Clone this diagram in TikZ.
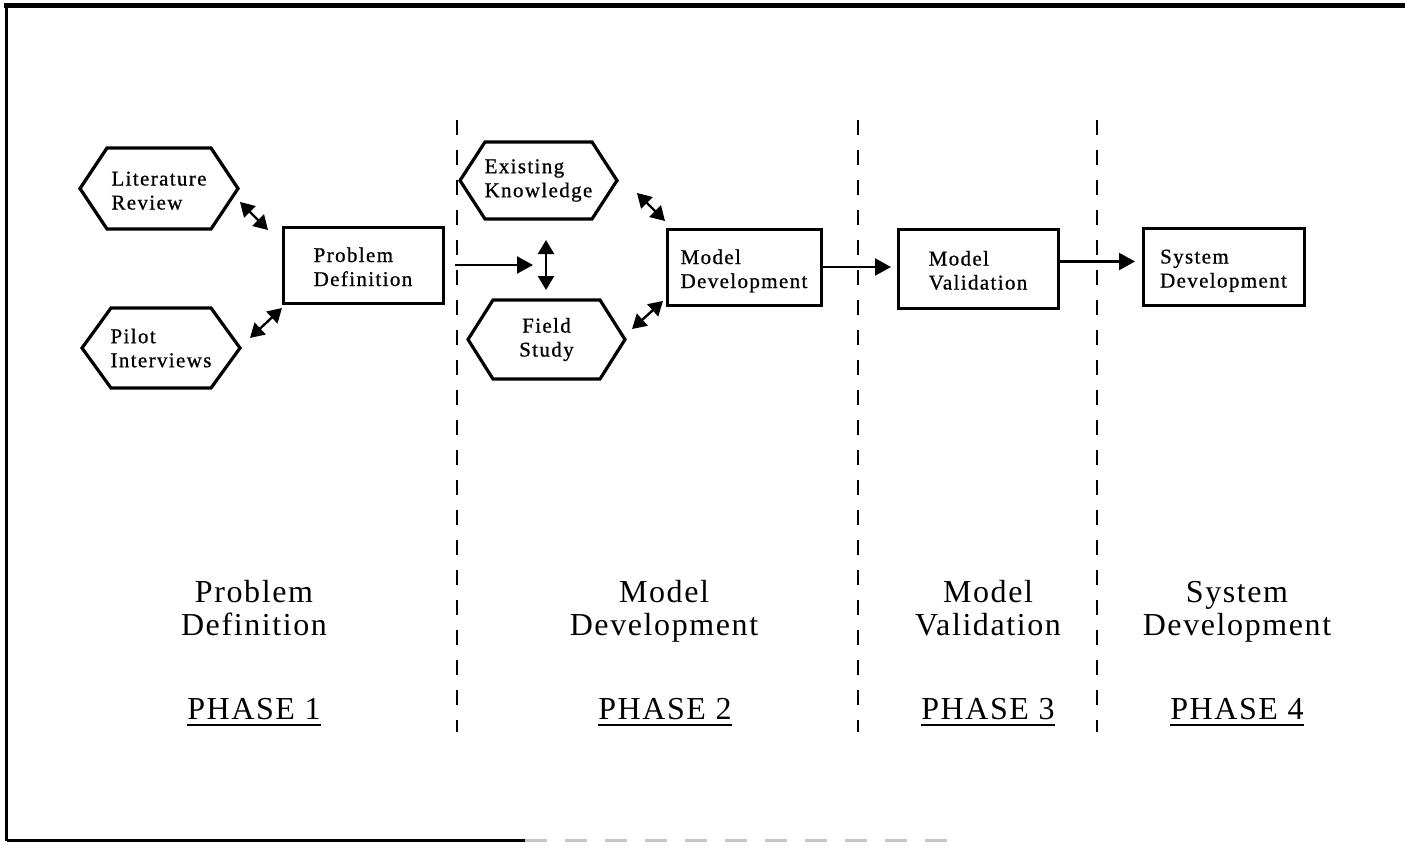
\documentclass[tikz,border=0pt]{standalone}
\usepackage{fontspec}
\setmainfont{Liberation Serif}
\newfontfamily\boxfont[LetterSpace=6.5,FakeBold=0.8]{Liberation Serif}
\newfontfamily\phasefont[LetterSpace=5]{Liberation Serif}
\usetikzlibrary{arrows.meta}

% invisible struts so every text line sits on the same baseline grid
\newcommand{\boxstrut}{\rule[-5pt]{0pt}{28pt}}
\newcommand{\capstrut}{\rule[-9pt]{0pt}{37pt}}
% keep baselines exactly one \baselineskip apart
\newcommand{\tightlines}{\lineskiplimit=-50pt\relax\lineskip=0pt\relax}
\newcommand{\boxtextfont}{\boxfont\fontsize{21}{24}\selectfont\tightlines}
\newcommand{\captionfont}{\phasefont\fontsize{32}{33}\selectfont\tightlines}

% hexagon drawn around a (borderless) node: #1 name, #2 horizontal inset of the slanted sides
\newcommand{\hexframe}[2]{%
  \draw[hexline] (#1.west) -- ([xshift=#2]#1.north west) -- ([xshift=-#2]#1.north east)
    -- (#1.east) -- ([xshift=-#2]#1.south east) -- ([xshift=#2]#1.south west) -- cycle;}

\begin{document}
\begin{tikzpicture}[x=1pt,y=-1pt,
  stepbox/.style={draw, line width=3pt, inner sep=0pt, outer sep=0pt, align=left, font=\boxtextfont},
  hexnode/.style={inner sep=0pt, outer sep=0pt, align=left, font=\boxtextfont},
  hexline/.style={line width=3.2pt, line join=miter},
  link/.style={line width=2.2pt, -{Triangle[length=16pt,width=17pt]}},
  dlink/.style={line width=2.4pt,
    {Triangle[length=14pt,width=16pt]}-{Triangle[length=14pt,width=16pt]}},
  divider/.style={line width=2.6pt, dash pattern=on 15pt off 15pt},
  phaselabel/.style={font=\captionfont, align=center, inner sep=0pt},
  phasetag/.style={font=\phasefont\fontsize{32}{33}\selectfont, inner sep=0pt, anchor=base},
]
\useasboundingbox (0,0) rectangle (1405,844);

% outer frame
\draw[line width=4.5pt] (4,5.5) -- (1405,5.5);
\draw[line width=3.5pt] (6.5,3) -- (6.5,841);
\draw[line width=3pt] (6.5,840) -- (525,840);
\draw[line width=3pt, gray!45, dash pattern=on 22pt off 18pt] (525,840) -- (965,840);

% phase dividers
\draw[divider] (457,120) -- (457,732);
\draw[divider] (858,120) -- (858,732);
\draw[divider] (1097,120) -- (1097,732);

% phase 1
\node[hexnode, minimum width=158, minimum height=81] (lit) at (159,188.5) {Literature\boxstrut\\Review\boxstrut};
\hexframe{lit}{27}
\node[hexnode, minimum width=158, minimum height=80] (pil) at (161,348) {Pilot\\Interviews};
\hexframe{pil}{29}
\node[stepbox, minimum width=160, minimum height=76] (prob) at (363,265) {Problem\boxstrut\\Definition\boxstrut};

% phase 2
\node[hexnode, minimum width=157, minimum height=77] (ek) at (538.5,180.5) {Existing\\Knowledge};
\hexframe{ek}{25}
\node[hexnode, align=center, minimum width=157, minimum height=79] (fs) at (546.5,339.5) {Field\\Study};
\hexframe{fs}{25}
\node[stepbox, minimum width=154, minimum height=76] (mdev) at (744,267) {Model\boxstrut\\Development\boxstrut};

% phase 3 and 4
\node[stepbox, minimum width=160, minimum height=79] (mval) at (978,268.5) {Model\boxstrut\\Validation\boxstrut};
\node[stepbox, minimum width=161, minimum height=77] (sdev) at (1223.5,266.5) {System\boxstrut\\Development\boxstrut};

% connector end points
\coordinate (litA) at (240,202);  \coordinate (probA) at (268,230);
\coordinate (pilA) at (250,338);  \coordinate (probB) at (282,308);
\coordinate (join) at (533,265);
\coordinate (ekA) at (546,240);   \coordinate (fsA) at (546,290);
\coordinate (ekB) at (637,193);   \coordinate (mdevA) at (665,221);
\coordinate (fsB) at (632,329);   \coordinate (mdevB) at (663,301);

% connectors
\draw[dlink] (litA) -- (probA);
\draw[dlink] (pilA) -- (probB);
\draw[link] ([xshift=12pt]prob.east) -- (join);
\draw[dlink] (ekA) -- (fsA);
\draw[dlink] (ekB) -- (mdevA);
\draw[dlink] (fsB) -- (mdevB);
\draw[link, shorten >=7pt] (mdev.east) -- (mdev.east -| mval.west);
\draw[link, shorten >=8pt, shorten <=2pt] ([yshift=7pt]mval.east) -- ([yshift=7pt]mval.east -| sdev.west);

% phase captions
\node[phaselabel] (pl1) at (254,609) {Problem\capstrut\\Definition\capstrut};
\node[phaselabel] (pl2) at (664,609) {Model\capstrut\\Development\capstrut};
\node[phaselabel] (pl3) at (988,609) {Model\capstrut\\Validation\capstrut};
\node[phaselabel] (pl4) at (1237,609) {System\capstrut\\Development\capstrut};

\node[phasetag] (ph1) at (254,719) {PHASE 1};
\node[phasetag] (ph2) at (665,719) {PHASE 2};
\node[phasetag] (ph3) at (988,719) {PHASE 3};
\node[phasetag] (ph4) at (1237,719) {PHASE 4};
\foreach \p in {ph1,ph2,ph3,ph4}
  \draw[line width=1.6pt] ([yshift=-6pt]\p.base west) -- ([yshift=-6pt]\p.base east);
\end{tikzpicture}
\end{document}
